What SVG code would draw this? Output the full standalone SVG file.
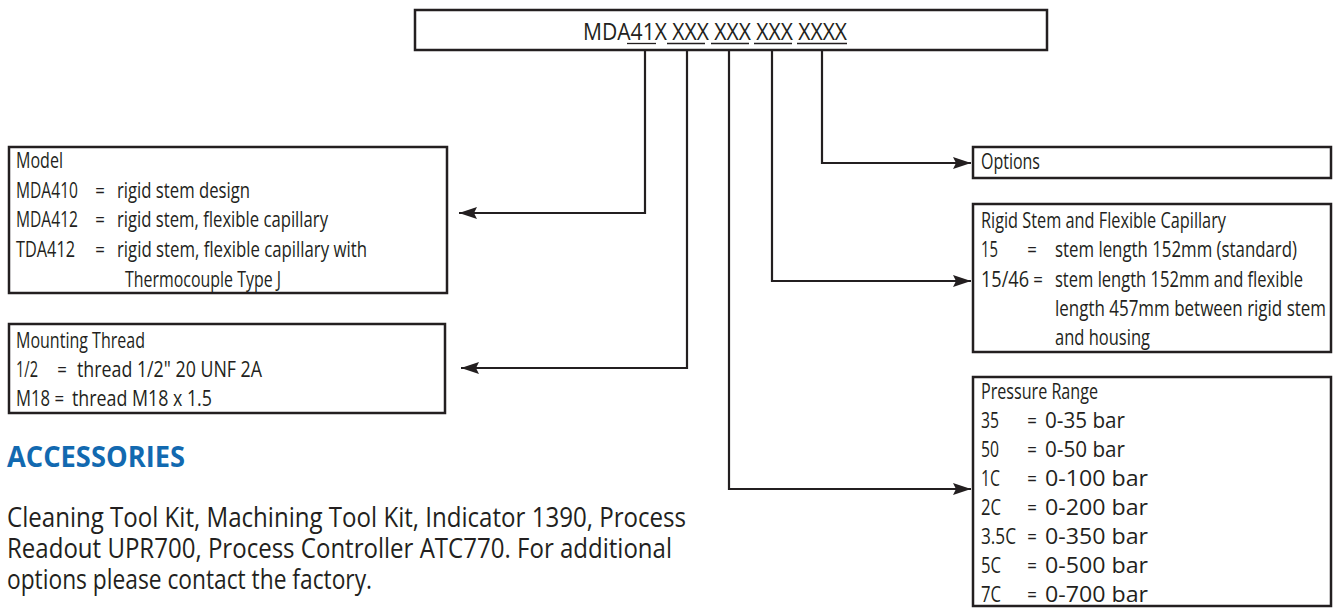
<svg xmlns="http://www.w3.org/2000/svg" width="1339" height="614" viewBox="0 0 1339 614">
<defs>
<style>
.bg{fill:#fff}
.box{fill:#fff;stroke:#231f20;stroke-width:2.5}
.t{font-family:"Open Sans","Liberation Sans",sans-serif;font-size:21px;fill:#231f20}
.e{font-family:"Open Sans","Liberation Sans",sans-serif;font-size:21px;fill:#231f20;text-anchor:middle}
.ul{stroke:#231f20;stroke-width:1.3}
.con{fill:none;stroke:#231f20;stroke-width:2.2}
.h{font-family:"Open Sans","Liberation Sans",sans-serif;font-size:29px;font-weight:bold;fill:#1269b0}
.p{font-family:"Open Sans","Liberation Sans",sans-serif;font-size:27px;fill:#231f20}
</style>
<marker id="arr" markerUnits="userSpaceOnUse" markerWidth="19" markerHeight="13" refX="18" refY="6.5" orient="auto">
<path d="M0,0.5 L18,6.5 L0,12.5 L3,6.5 Z" fill="#231f20"/>
</marker>
</defs>
<rect class="bg" width="1339" height="614"/>

<g id="connectors">
<polyline class="con" points="645,50 645,213 459,213" marker-end="url(#arr)"/>
<polyline class="con" points="687,50 687,368 461,368" marker-end="url(#arr)"/>
<polyline class="con" points="729,50 729,489 971,489" marker-end="url(#arr)"/>
<polyline class="con" points="772,50 772,281 971,281" marker-end="url(#arr)"/>
<polyline class="con" points="822,50 822,163 971,163" marker-end="url(#arr)"/>
</g>

<g id="code">
<rect class="box" x="415" y="10" width="632" height="40"/>
<g transform="scale(0.85,1)">
<text class="t" x="685.9" y="40" style="font-size:23px" textLength="310.6" lengthAdjust="spacingAndGlyphs">MDA41X XXX XXX XXX XXXX</text>
</g>
<line class="ul" x1="627" y1="43.5" x2="656" y2="43.5"/>
<line class="ul" x1="667" y1="43.5" x2="705" y2="43.5"/>
<line class="ul" x1="711" y1="43.5" x2="749" y2="43.5"/>
<line class="ul" x1="754" y1="43.5" x2="792" y2="43.5"/>
<line class="ul" x1="797" y1="43.5" x2="847" y2="43.5"/>
</g>

<g id="model">
<rect class="box" x="9" y="147" width="438" height="146"/>
<g transform="scale(0.8,1)">
<text class="t" x="20" y="168" textLength="58.75" lengthAdjust="spacingAndGlyphs">Model</text>
<text class="t" x="20" y="198" textLength="77.5" lengthAdjust="spacingAndGlyphs">MDA410</text><text class="e" x="125" y="198">=</text><text class="t" x="146.25" y="198" textLength="166.25" lengthAdjust="spacingAndGlyphs">rigid stem design</text>
<text class="t" x="20" y="227" textLength="77.5" lengthAdjust="spacingAndGlyphs">MDA412</text><text class="e" x="125" y="227">=</text><text class="t" x="146.25" y="227" textLength="263.75" lengthAdjust="spacingAndGlyphs">rigid stem, flexible capillary</text>
<text class="t" x="20" y="257" textLength="73.75" lengthAdjust="spacingAndGlyphs">TDA412</text><text class="e" x="125" y="257">=</text><text class="t" x="146.25" y="257" textLength="312.5" lengthAdjust="spacingAndGlyphs">rigid stem, flexible capillary with</text>
<text class="t" x="156.25" y="287" textLength="195" lengthAdjust="spacingAndGlyphs">Thermocouple Type J</text>
</g>
</g>

<g id="mounting">
<rect class="box" x="9" y="324" width="436" height="89"/>
<g transform="scale(0.8,1)">
<text class="t" x="20" y="348" textLength="161.25" lengthAdjust="spacingAndGlyphs">Mounting Thread</text>
<text class="t" x="20" y="377" textLength="27.5" lengthAdjust="spacingAndGlyphs">1/2</text><text class="e" x="77.5" y="377">=</text><text class="t" x="96.25" y="377" textLength="231.25" lengthAdjust="spacingAndGlyphs">thread 1/2" 20 UNF 2A</text>
<text class="t" x="20" y="406" textLength="42.5" lengthAdjust="spacingAndGlyphs">M18</text><text class="e" x="74" y="406">=</text><text class="t" x="90" y="406" textLength="175" lengthAdjust="spacingAndGlyphs">thread M18 x 1.5</text>
</g>
</g>

<g id="accessories">
<g transform="scale(0.85,1)">
<text class="h" x="8.24" y="467" textLength="209.4" lengthAdjust="spacingAndGlyphs">ACCESSORIES</text>
</g>
<g transform="scale(0.93,1)">
<text class="p" x="7.53" y="527" textLength="730.1" lengthAdjust="spacingAndGlyphs">Cleaning Tool Kit, Machining Tool Kit, Indicator 1390, Process</text>
<text class="p" x="7.53" y="558" textLength="715.1" lengthAdjust="spacingAndGlyphs">Readout UPR700, Process Controller ATC770. For additional</text>
<text class="p" x="7.53" y="589" textLength="392.5" lengthAdjust="spacingAndGlyphs">options please contact the factory.</text>
</g>
</g>

<g id="options">
<rect class="box" x="973" y="147" width="358" height="31"/>
<g transform="scale(0.8,1)">
<text class="t" x="1226.25" y="169" textLength="73.75" lengthAdjust="spacingAndGlyphs">Options</text>
</g>
</g>

<g id="stem">
<rect class="box" x="973" y="204" width="358" height="148"/>
<g transform="scale(0.8,1)">
<text class="t" x="1226.25" y="228" textLength="306.25" lengthAdjust="spacingAndGlyphs">Rigid Stem and Flexible Capillary</text>
<text class="t" x="1226.25" y="257" textLength="21.25" lengthAdjust="spacingAndGlyphs">15</text><text class="e" x="1290" y="257">=</text><text class="t" x="1318.75" y="257" textLength="302.5" lengthAdjust="spacingAndGlyphs">stem length 152mm (standard)</text>
<text class="t" x="1226.25" y="287" textLength="60" lengthAdjust="spacingAndGlyphs">15/46</text><text class="e" x="1297.5" y="287">=</text><text class="t" x="1318.75" y="287" textLength="310" lengthAdjust="spacingAndGlyphs">stem length 152mm and flexible</text>
<text class="t" x="1318.75" y="316" textLength="338.75" lengthAdjust="spacingAndGlyphs">length 457mm between rigid stem</text>
<text class="t" x="1318.75" y="345" textLength="118.75" lengthAdjust="spacingAndGlyphs">and housing</text>
</g>
</g>

<g id="pressure">
<rect class="box" x="973" y="377" width="358" height="229"/>
<g transform="scale(0.8,1)">
<text class="t" x="1226.25" y="399" textLength="146.25" lengthAdjust="spacingAndGlyphs">Pressure Range</text>
<text class="t" x="1226.25" y="428" textLength="22.5" lengthAdjust="spacingAndGlyphs">35</text><text class="e" x="1290" y="428">=</text><text class="t" x="1306.25" y="428" textLength="100" lengthAdjust="spacingAndGlyphs">0-35 bar</text>
<text class="t" x="1226.25" y="457" textLength="22.5" lengthAdjust="spacingAndGlyphs">50</text><text class="e" x="1290" y="457">=</text><text class="t" x="1306.25" y="457" textLength="100" lengthAdjust="spacingAndGlyphs">0-50 bar</text>
<text class="t" x="1226.25" y="486" textLength="23.75" lengthAdjust="spacingAndGlyphs">1C</text><text class="e" x="1290" y="486">=</text><text class="t" x="1306.25" y="486" textLength="128.75" lengthAdjust="spacingAndGlyphs">0-100 bar</text>
<text class="t" x="1226.25" y="515" textLength="25" lengthAdjust="spacingAndGlyphs">2C</text><text class="e" x="1290" y="515">=</text><text class="t" x="1306.25" y="515" textLength="128.75" lengthAdjust="spacingAndGlyphs">0-200 bar</text>
<text class="t" x="1226.25" y="544" textLength="43.75" lengthAdjust="spacingAndGlyphs">3.5C</text><text class="e" x="1290" y="544">=</text><text class="t" x="1306.25" y="544" textLength="128.75" lengthAdjust="spacingAndGlyphs">0-350 bar</text>
<text class="t" x="1226.25" y="573" textLength="25" lengthAdjust="spacingAndGlyphs">5C</text><text class="e" x="1290" y="573">=</text><text class="t" x="1306.25" y="573" textLength="128.75" lengthAdjust="spacingAndGlyphs">0-500 bar</text>
<text class="t" x="1226.25" y="602" textLength="25" lengthAdjust="spacingAndGlyphs">7C</text><text class="e" x="1290" y="602">=</text><text class="t" x="1306.25" y="602" textLength="128.75" lengthAdjust="spacingAndGlyphs">0-700 bar</text>
</g>
</g>
</svg>
